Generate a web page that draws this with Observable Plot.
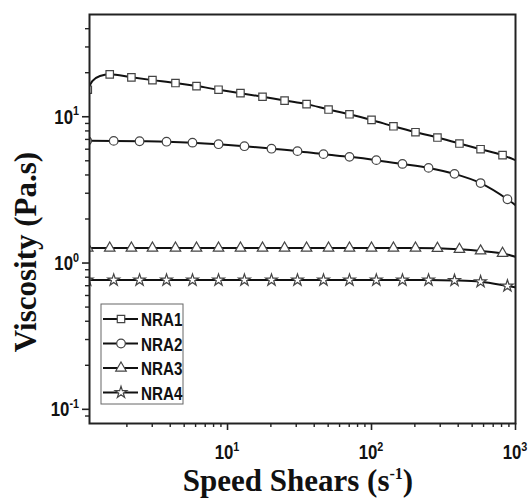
<!DOCTYPE html>
<html>
<head>
<meta charset="utf-8">
<script src="https://cdn.jsdelivr.net/npm/d3@7"></script>
<script src="https://cdn.jsdelivr.net/npm/@observablehq/plot@0.6"></script>
<style>
  html, body { margin: 0; padding: 0; background: #fff; }
  svg { display: block; }
</style>
</head>
<body>
<div id="chart"></div>
<script>
// ---- data ----
const seriesNames = ["NRA1", "NRA2", "NRA3", "NRA4"];
const seriesSymbols = ["square", "circle", "triangle", "star"];

// shear rates (s^-1) where squares / triangles are drawn
const shearA = [1.07, 1.52, 2.15, 3.01, 4.35, 6.09, 8.66, 12.3, 17.5, 24.9, 35.4, 50.3, 70.3, 100, 142, 202, 287, 408, 572, 813];
// shear rates (s^-1) where circles / stars are drawn
const shearB = [1.06, 1.62, 2.45, 3.77, 5.71, 8.66, 13.1, 20.2, 30.6, 46.4, 70.3, 108, 164, 249, 377, 572, 879];

const nra1 = [15.3, 19.5, 18.6, 17.8, 17.0, 16.2, 15.3, 14.5, 13.7, 12.9, 12.2, 11.2, 10.4, 9.51, 8.61, 7.84, 7.21, 6.56, 6.00, 5.46];
const nra3 = [1.266, 1.266, 1.266, 1.266, 1.266, 1.266, 1.266, 1.266, 1.266, 1.266, 1.266, 1.266, 1.266, 1.266, 1.266, 1.266, 1.26, 1.24, 1.21, 1.165];
const nra2 = [6.85, 6.84, 6.80, 6.75, 6.65, 6.49, 6.29, 6.05, 5.82, 5.55, 5.32, 5.05, 4.76, 4.47, 4.07, 3.52, 2.73];
const nra4 = [0.765, 0.765, 0.765, 0.765, 0.765, 0.765, 0.765, 0.765, 0.765, 0.765, 0.765, 0.765, 0.765, 0.765, 0.76, 0.745, 0.697];

// extra curve points without markers
const riseShear = [1.15, 1.3];
const riseNra1 = [17.5, 19.0];
const endShear = 1000;
const endValues = [5.05, 2.49, 1.104, 0.682];

// ticks
const xMajor = [10, 100, 1000];
const xMinor = [2, 3, 4, 5, 6, 7, 8, 9, 20, 30, 40, 50, 60, 70, 80, 90, 200, 300, 400, 500, 600, 700, 800, 900];
const yMajor = [0.1, 1, 10];
const yMinor = [0.09, 0.2, 0.3, 0.4, 0.5, 0.6, 0.7, 0.8, 0.9, 2, 3, 4, 5, 6, 7, 8, 9, 20, 30, 40];
const xTitle = "Speed Shears (s";
const xTitleSup = "-1";
const yTitle = "Viscosity (Pa.s)";

// ---- build tables ----
const seriesRows = [
  shearA.map((s, i) => ({series: "NRA1", x: s, y: nra1[i]})),
  shearB.map((s, i) => ({series: "NRA2", x: s, y: nra2[i]})),
  shearA.map((s, i) => ({series: "NRA3", x: s, y: nra3[i]})),
  shearB.map((s, i) => ({series: "NRA4", x: s, y: nra4[i]}))
];

const lineRows = seriesRows.flat();
riseShear.forEach((s, i) => lineRows.push({series: "NRA1", x: s, y: riseNra1[i]}));
seriesNames.forEach((n, i) => lineRows.push({series: n, x: endShear, y: endValues[i]}));
lineRows.sort((a, b) => a.x - b.x);

const tickFont = '"Liberation Sans", Arial, sans-serif';
const titleFont = '"Liberation Serif", "Times New Roman", serif';
const squeeze = 0.8;
const markerR = [4.2, 4.3, 3.9, 3.7];

const plot = Plot.plot({
  width: 528,
  height: 499,
  marginLeft: 89,
  marginRight: 13,
  marginTop: 14,
  marginBottom: 76,
  style: {background: "#fff", overflow: "visible"},
  x: {type: "log", domain: [1.1, 1000], label: null},
  y: {type: "log", domain: [0.08, 50], label: null},
  marks: [
    Plot.axisX({ticks: xMajor, tickSize: 7, tickFormat: () => "", strokeWidth: 1.6, stroke: "#222"}),
    Plot.axisX({ticks: xMinor, tickSize: 4, tickFormat: () => "", strokeWidth: 1.4, stroke: "#222"}),
    Plot.axisY({ticks: yMajor, tickSize: 7, tickFormat: () => "", strokeWidth: 1.6, stroke: "#222"}),
    Plot.axisY({ticks: yMinor, tickSize: 4, tickFormat: () => "", strokeWidth: 1.4, stroke: "#222"}),
    Plot.line(lineRows, {x: "x", y: "y", z: "series", stroke: "#111", strokeWidth: 2, curve: "monotone-x", clip: true}),
    ...seriesRows.map((rows, i) => Plot.dot(rows, {x: "x", y: "y", symbol: seriesSymbols[i], r: markerR[i],
      fill: "#fff", stroke: "#444", strokeWidth: 1.2, clip: true})),
    Plot.frame({stroke: "#222", strokeWidth: 2})
  ]
});

document.getElementById("chart").appendChild(plot);

const svg = d3.select(plot);
const sx = plot.scale("x");
const sy = plot.scale("y");

function expLabel(g, v, x, y, anchor) {
  const e = Math.round(Math.log10(v));
  const t = g.append("g").attr("transform", `translate(${x},${y}) scale(${squeeze},1)`)
    .append("text")
    .attr("x", 0).attr("y", 0)
    .attr("text-anchor", anchor)
    .attr("font-family", tickFont)
    .attr("font-weight", "bold")
    .attr("font-size", 21)
    .attr("fill", "#111");
  t.append("tspan").text("10");
  t.append("tspan").attr("font-size", 13.5).attr("dy", -8.5).text(e < 0 ? "-" + (-e) : String(e));
}

const labels = svg.append("g");
xMajor.forEach(v => expLabel(labels, v, sx.apply(v), 459, "middle"));
yMajor.forEach(v => expLabel(labels, v, 79, sy.apply(v) + 7.5, "end"));

// axis titles
const xt = svg.append("text")
  .attr("x", 298).attr("y", 491)
  .attr("text-anchor", "middle")
  .attr("font-family", titleFont)
  .attr("font-weight", "bold")
  .attr("font-size", 31)
  .attr("fill", "#111");
xt.append("tspan").text(xTitle);
xt.append("tspan").attr("font-size", 16).attr("dy", -12).text(xTitleSup);
xt.append("tspan").attr("dy", 12).text(")");

svg.append("text")
  .attr("transform", "translate(36,252) rotate(-90)")
  .attr("text-anchor", "middle")
  .attr("font-family", titleFont)
  .attr("font-weight", "bold")
  .attr("font-size", 31)
  .attr("fill", "#111")
  .text(yTitle);

// legend
const lg = svg.append("g");
lg.append("rect").attr("x", 101).attr("y", 304).attr("width", 82).attr("height", 100)
  .attr("fill", "#fff").attr("stroke", "#666").attr("stroke-width", 1);
const symMap = {square: d3.symbolSquare, circle: d3.symbolCircle, triangle: d3.symbolTriangle, star: d3.symbolStar};
const rowY = [319, 343.5, 368, 392.5];
seriesNames.forEach((n, i) => {
  const yy = rowY[i];
  lg.append("line").attr("x1", 103).attr("x2", 138).attr("y1", yy).attr("y2", yy)
    .attr("stroke", "#111").attr("stroke-width", 2);
  const r = markerR[i];
  lg.append("path").attr("transform", `translate(121,${yy})`)
    .attr("d", d3.symbol(symMap[seriesSymbols[i]], Math.PI * r * r)())
    .attr("fill", "#fff").attr("stroke", "#444").attr("stroke-width", 1.2);
  lg.append("g").attr("transform", `translate(141,${yy + 7}) scale(${squeeze},1)`)
    .append("text").attr("x", 0).attr("y", 0)
    .attr("text-anchor", "start")
    .attr("font-family", tickFont).attr("font-weight", "bold").attr("font-size", 19)
    .attr("fill", "#111").text(n);
});
</script>
</body>
</html>
